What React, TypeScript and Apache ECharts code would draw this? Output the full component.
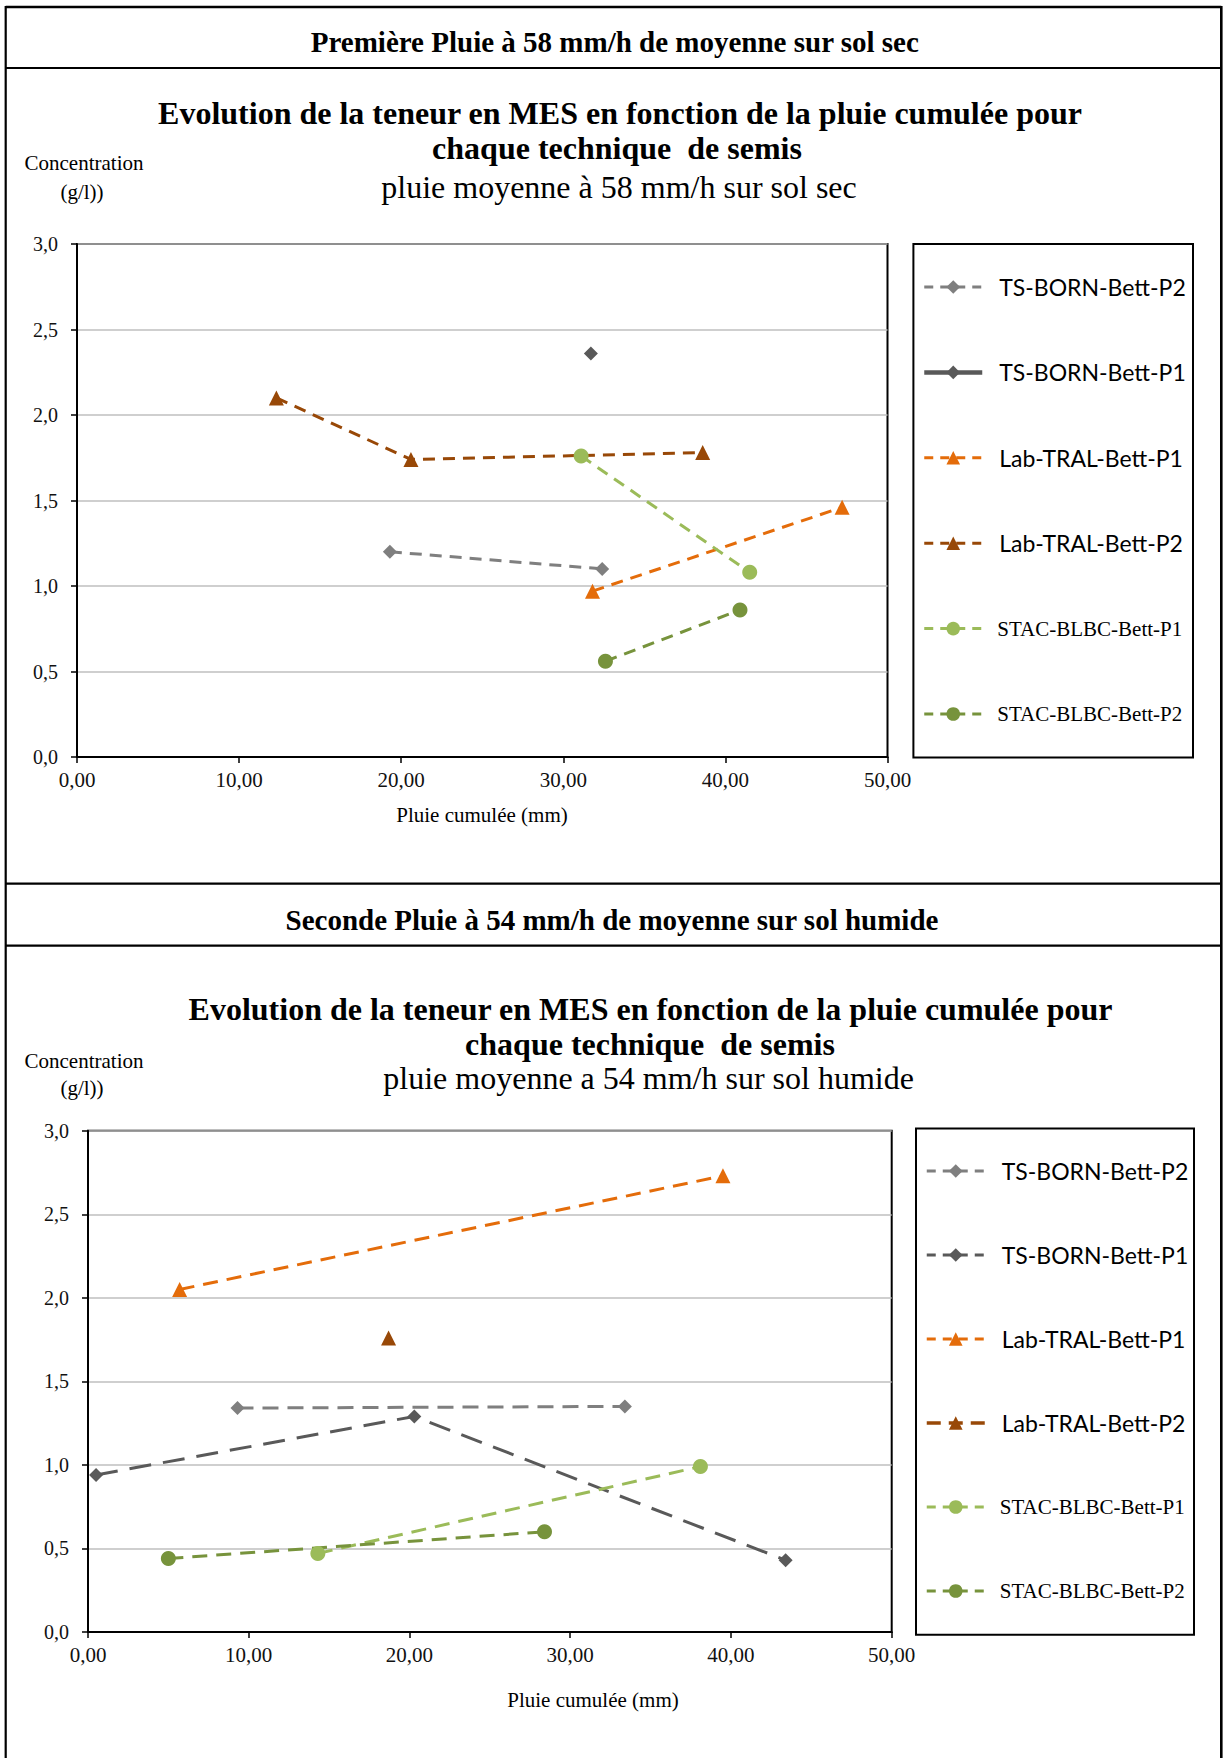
import React, { useEffect, useRef } from 'react';
import * as echarts from 'echarts';

const SERIF = '"Liberation Serif", "Times New Roman", serif';
const SANS = 'Lato, "Noto Sans", sans-serif';

// Series definitions (legend order)
const seriesNames = ['TS-BORN-Bett-P2', 'TS-BORN-Bett-P1', 'Lab-TRAL-Bett-P1', 'Lab-TRAL-Bett-P2', 'STAC-BLBC-Bett-P1', 'STAC-BLBC-Bett-P2'];
const seriesColors = ['#7F7F7F', '#595959', '#E46C0A', '#984807', '#9BBB59', '#77933C'];
const seriesSymbols = ['diamond', 'diamond', 'triangle', 'triangle', 'circle', 'circle'];

// Chart 1 : first rain, 58 mm/h, dry soil — [pluie cumulée (mm), concentration (g/l)]
const sec_TS_BORN_P2 = [[19.3, 1.20], [32.4, 1.10]];
const sec_TS_BORN_P1 = [[31.7, 2.36]];
const sec_LAB_TRAL_P1 = [[31.8, 0.97], [47.2, 1.46]];
const sec_LAB_TRAL_P2 = [[12.3, 2.10], [20.6, 1.74], [38.6, 1.78]];
const sec_STAC_BLBC_P1 = [[31.1, 1.76], [41.5, 1.08]];
const sec_STAC_BLBC_P2 = [[32.6, 0.56], [40.9, 0.86]];

// Chart 2 : second rain, 54 mm/h, wet soil
const hum_TS_BORN_P2 = [[9.3, 1.34], [33.4, 1.35]];
const hum_TS_BORN_P1 = [[0.5, 0.94], [20.3, 1.29], [43.4, 0.43]];
const hum_LAB_TRAL_P1 = [[5.7, 2.05], [39.5, 2.73]];
const hum_LAB_TRAL_P2 = [[18.7, 1.76]];
const hum_STAC_BLBC_P1 = [[14.3, 0.47], [38.1, 0.99]];
const hum_STAC_BLBC_P2 = [[5.0, 0.44], [28.4, 0.60]];

// Axis ranges
const xMin = 0, xMax = 50, xStep = 10;
const yMin = 0, yMax = 3, yStep = 0.5;

// Texts
const header1 = 'Première Pluie à 58 mm/h de moyenne sur sol sec';
const header2 = 'Seconde Pluie à 54 mm/h de moyenne sur sol humide';
const titleLine1 = 'Evolution de la teneur en MES en fonction de la pluie cumulée pour';
const titleLine2 = 'chaque technique  de semis';
const subtitle1 = 'pluie moyenne à 58 mm/h sur sol sec';
const subtitle2 = 'pluie moyenne a 54 mm/h sur sol humide';
const yName1 = 'Concentration';
const yName2 = '(g/l))';
const xName = 'Pluie cumulée (mm)';

function txt(text: string, x: number, y: number, font: string) {
  return {
    type: 'text', x, y, silent: true,
    style: { text, font, fill: '#000', align: 'center', verticalAlign: 'middle', textAlign: 'center', textVerticalAlign: 'middle' },
  };
}
function ln(x1: number, y1: number, x2: number, y2: number, w = 2.2) {
  return { type: 'line', silent: true, shape: { x1, y1, x2, y2 }, style: { stroke: '#000', lineWidth: w } };
}

type Cfg = {
  data: number[][][];
  lineTypes: any[];
  lineWidths: number[];
  legendLines: { type: any; width: number }[];
  grid: { left: number; top: number; width: number; height: number };
  legendLeft: number;
  legendTop: number;
  legendGap: number;
  graphics: any[];
};

function buildOption(cfg: Cfg) {
  const series = seriesNames.map((name, i) => ({
    name,
    type: 'line',
    data: cfg.data[i],
    symbol: seriesSymbols[i],
    symbolSize: seriesSymbols[i] === 'diamond' ? 14 : 15,
    showSymbol: true,
    itemStyle: { color: seriesColors[i] },
    lineStyle: { color: seriesColors[i], width: cfg.lineWidths[i], type: cfg.lineTypes[i] },
    z: 3,
  }));
  return {
    animation: false,
    backgroundColor: 'transparent',
    grid: {
      ...cfg.grid,
      show: true,
      borderColor: '#000',
      borderWidth: 2,
      backgroundColor: 'transparent',
      containLabel: false,
    },
    xAxis: {
      type: 'value', min: xMin, max: xMax, interval: xStep,
      axisLine: { show: true, lineStyle: { color: '#000', width: 2 } },
      axisTick: { show: true, length: 6, lineStyle: { color: '#000', width: 1.5 } },
      splitLine: { show: false },
      axisLabel: {
        margin: 12, fontFamily: SERIF, fontSize: 21, color: '#111',
        formatter: (v: number) => v.toFixed(2).replace('.', ','),
      },
    },
    yAxis: {
      type: 'value', min: yMin, max: yMax, interval: yStep,
      axisLine: { show: true, lineStyle: { color: '#000', width: 2 } },
      axisTick: { show: true, length: 6, lineStyle: { color: '#000', width: 1.5 } },
      splitLine: { show: true, lineStyle: { color: '#BFBFBF', width: 1.5 } },
      axisLabel: {
        margin: 19, fontFamily: SERIF, fontSize: 20, color: '#111',
        formatter: (v: number) => v.toFixed(1).replace('.', ','),
      },
    },
    legend: {
      orient: 'vertical',
      left: cfg.legendLeft,
      top: cfg.legendTop,
      itemGap: cfg.legendGap,
      itemWidth: 58,
      itemHeight: 17,
      padding: 0,
      selectedMode: false,
      data: seriesNames.map((name, i) => ({
        name,
        lineStyle: { color: seriesColors[i], width: cfg.legendLines[i].width, type: cfg.legendLines[i].type },
        textStyle: i < 4
          ? { fontFamily: SANS, fontSize: 23, lineHeight: 30, color: '#000', padding: [0, 0, 0, 12] }
          : { fontFamily: SERIF, fontSize: 21, lineHeight: 30, color: '#000', padding: [0, 0, 0, 10] },
      })),
    },
    graphic: { elements: cfg.graphics },
    series,
  };
}

const dashA = [12, 8];
const legDash = { type: [9, 7], width: 3 };

const option1 = buildOption({
  data: [sec_TS_BORN_P2, sec_TS_BORN_P1, sec_LAB_TRAL_P1, sec_LAB_TRAL_P2, sec_STAC_BLBC_P1, sec_STAC_BLBC_P2],
  lineTypes: [dashA, 'solid', dashA, dashA, dashA, dashA],
  lineWidths: [3, 4.5, 3, 3, 3, 3],
  legendLines: [legDash, { type: 'solid', width: 4.5 }, legDash, legDash, legDash, legDash],
  grid: { left: 77, top: 244, width: 810.5, height: 513 },
  legendLeft: 922,
  legendTop: 272,
  legendGap: 55.4,
  graphics: [
    ln(5.7, 7, 1221.3, 7, 2.5),
    ln(5.7, 6, 5.7, 870, 2.2),
    ln(1221.3, 6, 1221.3, 870, 2.6),
    ln(5.7, 68, 1221.3, 68, 2.2),
    txt(header1, 614.8, 41.7, `bold 29px ${SERIF}`),
    txt(titleLine1, 620, 113, `bold 32px ${SERIF}`),
    txt(titleLine2, 617, 148, `bold 32px ${SERIF}`),
    txt(subtitle1, 619, 187, `32px ${SERIF}`),
    txt(yName1, 84, 163, `21px ${SERIF}`),
    txt(yName2, 82, 192, `21px ${SERIF}`),
    txt(xName, 482, 815, `21px ${SERIF}`),
    { type: 'rect', silent: true, shape: { x: 913.4, y: 244, width: 279.6, height: 513.5 }, style: { fill: 'none', stroke: '#000', lineWidth: 2 } },
  ],
});

const option2 = buildOption({
  data: [hum_TS_BORN_P2, hum_TS_BORN_P1, hum_LAB_TRAL_P1, hum_LAB_TRAL_P2, hum_STAC_BLBC_P1, hum_STAC_BLBC_P2],
  lineTypes: [[16, 9], [22, 12], [15, 9], [14, 12], [15, 9], [15, 9]],
  lineWidths: [3, 3, 3, 3.5, 3, 3],
  legendLines: [legDash, legDash, legDash, { type: [14, 8], width: 3.5 }, legDash, legDash],
  grid: { left: 88, top: 260.7, width: 803.7, height: 501.3 },
  legendLeft: 925,
  legendTop: 286,
  legendGap: 54,
  graphics: [
    ln(5.7, 0, 5.7, 888, 2.2),
    ln(1221.3, 0, 1221.3, 888, 2.6),
    ln(5.7, 13.7, 1221.3, 13.7, 2.2),
    ln(5.7, 75.7, 1221.3, 75.7, 2.2),
    txt(header2, 612, 50, `bold 29px ${SERIF}`),
    txt(titleLine1, 650.5, 139, `bold 32px ${SERIF}`),
    txt(titleLine2, 650, 174, `bold 32px ${SERIF}`),
    txt(subtitle2, 648.6, 208, `32px ${SERIF}`),
    txt(yName1, 84, 191, `21px ${SERIF}`),
    txt(yName2, 82, 218, `21px ${SERIF}`),
    txt(xName, 593, 830, `21px ${SERIF}`),
    { type: 'rect', silent: true, shape: { x: 916, y: 258.6, width: 278, height: 506.2 }, style: { fill: 'none', stroke: '#000', lineWidth: 2 } },
  ],
});

export default function App() {
  const topRef = useRef<HTMLDivElement>(null);
  const botRef = useRef<HTMLDivElement>(null);
  useEffect(() => {
    const c1 = echarts.init(topRef.current as HTMLDivElement, null, { renderer: 'svg' });
    const c2 = echarts.init(botRef.current as HTMLDivElement, null, { renderer: 'svg' });
    c1.setOption(option1 as any);
    c2.setOption(option2 as any);
    return () => { c1.dispose(); c2.dispose(); };
  }, []);
  return (
    <div style={{ position: 'absolute', left: 0, top: 0, width: 1223, height: 1758, background: '#fff' }}>
      <div ref={topRef} style={{ position: 'absolute', left: 0, top: 0, width: 1223, height: 870 }} />
      <div ref={botRef} style={{ position: 'absolute', left: 0, top: 870, width: 1223, height: 888 }} />
    </div>
  );
}
